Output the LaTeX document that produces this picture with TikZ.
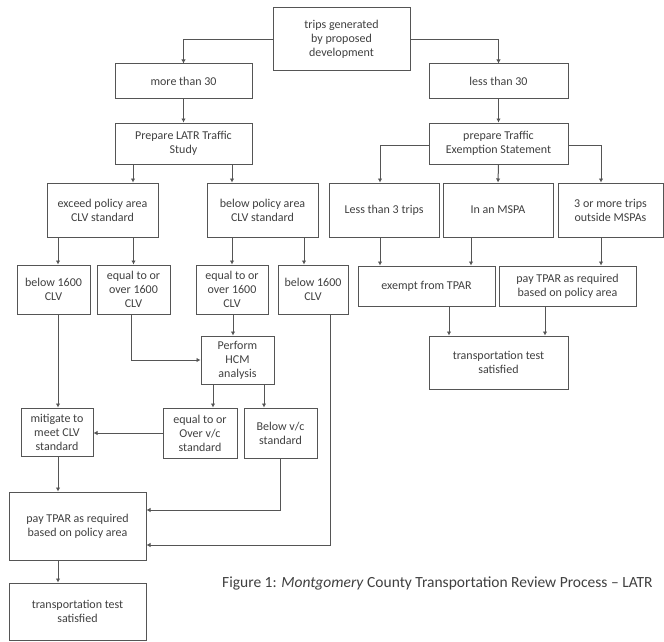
\documentclass[tikz,border=0pt]{standalone}
\usepackage{fontspec}
\setmainfont{Carlito}
\usetikzlibrary{arrows.meta}
\definecolor{linec}{HTML}{555555}
\definecolor{textc}{HTML}{404040}
\begin{document}
\begin{tikzpicture}[x=1pt,y=-1pt,
  box/.style={draw=linec,line width=1pt,inner sep=0pt,align=center,text=textc,
    font=\fontsize{12}{14}\selectfont},
  arr/.style={draw=linec,line width=1pt,-{Latex[length=4pt,width=4.5pt]}}]
\useasboundingbox[fill=white] (0,0) rectangle (664,642);
% helper x-columns
\coordinate (colA) at (58,0);
\coordinate (colB) at (380,0);
\coordinate (colC) at (471,0);
\coordinate (colD) at (601,0);
\coordinate (colE) at (449,0);
\coordinate (colF) at (545,0);
% nodes
\node[box,minimum width=137,minimum height=63] (top) at (341.5,39.5) {trips generated\\by proposed\\development};
\node[box,minimum width=137,minimum height=34] (more) at (183.5,81) {more than 30};
\node[box,minimum width=139,minimum height=34] (less) at (498.5,81) {less than 30};
\node[box,minimum width=137,minimum height=41] (latr) at (183.5,143.5) {Prepare LATR Traffic\\Study};
\node[box,minimum width=139,minimum height=41] (tes) at (498.5,143.5) {prepare Traffic\\Exemption Statement};
\node[box,minimum width=111,minimum height=54] (exceed) at (102.5,210) {exceed policy area\\CLV standard};
\node[box,minimum width=111,minimum height=54] (belowpol) at (262.5,210) {below policy area\\CLV standard};
\node[box,minimum width=110,minimum height=54] (less3) at (384,210) {Less than 3 trips};
\node[box,minimum width=110,minimum height=54] (mspa) at (498,210) {In an MSPA};
\node[box,minimum width=105,minimum height=54] (outside) at (610.5,210) {3 or more trips\\outside MSPAs};
\node[box,minimum width=73,minimum height=49] (bA) at (53.5,289.5) {below 1600\\CLV};
\node[box,minimum width=73,minimum height=49] (eA) at (133.5,289.5) {equal to or\\over 1600\\CLV};
\node[box,minimum width=72,minimum height=49] (eB) at (232,289.5) {equal to or\\over 1600\\CLV};
\node[box,minimum width=70,minimum height=49] (bB) at (313,289.5) {below 1600\\CLV};
\node[box,minimum width=137,minimum height=40] (exempt) at (426.5,286) {exempt from TPAR};
\node[box,minimum width=137,minimum height=40] (payr) at (567.5,286) {pay TPAR as required\\based on policy area};
\node[box,minimum width=73,minimum height=48] (hcm) at (237.5,360) {Perform\\HCM\\analysis};
\node[box,minimum width=139,minimum height=53] (testr) at (498.5,362.5) {transportation test\\satisfied};
\node[box,minimum width=72,minimum height=48] (mit) at (57,432) {mitigate to\\meet CLV\\standard};
\node[box,minimum width=74,minimum height=50] (eqvc) at (200,433) {equal to or\\Over v/c\\standard};
\node[box,minimum width=73,minimum height=50] (bvc) at (280.5,433) {Below v/c\\standard};
\node[box,minimum width=137,minimum height=68] (payl) at (77.5,526) {pay TPAR as required\\based on policy area};
\node[box,minimum width=137,minimum height=57] (testl) at (77.5,611.5) {transportation test\\satisfied};
\node[anchor=west,text=textc,inner sep=0pt,font=\fontsize{15.5}{18}\selectfont] (cap) at (222,583)
  {Figure 1: \textit{Montgomery} County Transportation Review Process -- LATR};
% connectors
\draw[arr] (top.west) -| (more.north);
\draw[arr] (top.east) -| (less.north);
\draw[arr] (more.south) -- (latr.north);
\draw[arr] (less.south) -- (tes.north);
\draw[arr] ([xshift=-50.5pt]latr.south) -- ([xshift=-50.5pt]latr.south |- exceed.north);
\draw[arr] ([xshift=48.5pt]latr.south) -- ([xshift=48.5pt]latr.south |- belowpol.north);
\draw[arr] ([yshift=-1.5pt]tes.west) -| (colB |- less3.north);
\draw[arr] (tes.south) -- (mspa.north);
\draw[arr] ([yshift=-1.5pt]tes.east) -| (colD |- outside.north);
\draw[arr] (exceed.south -| colA) -- (bA.north -| colA);
\draw[arr] (exceed.south -| eA.north) -- (eA.north);
\draw[arr] (belowpol.south -| eB.north) -- (eB.north);
\draw[arr] ([xshift=-9pt]bB.north |- belowpol.south) -- ([xshift=-9pt]bB.north);
\draw[arr] ([xshift=1pt]eB.south) -- ([xshift=1pt]eB.south |- hcm.north);
\draw[arr] ([xshift=-2.5pt]eA.south) |- (hcm.west);
\draw[arr] ([xshift=-24.5pt]hcm.south) -- ([xshift=-24.5pt]hcm.south |- eqvc.north);
\draw[arr] ([xshift=26.5pt]hcm.south) -- ([xshift=26.5pt]hcm.south |- bvc.north);
\draw[arr] (bA.south -| colA) -- (mit.north -| colA);
\draw[arr] (eqvc.west) -- (eqvc.west -| mit.east);
\draw[arr] (mit.south -| colA) -- (payl.north -| colA);
\draw[arr] (bvc.south) |- ([yshift=16pt]payl.east);
\draw[arr] ([xshift=17pt]bB.south) |- ([yshift=-19pt]payl.east);
\draw[arr] (payl.south -| colA) -- (testl.north -| colA);
\draw[arr] (less3.south -| colB) -- (exempt.north -| colB);
\draw[arr] (mspa.south -| colC) -- (exempt.north -| colC);
\draw[arr] (outside.south -| colD) -- (payr.north -| colD);
\draw[arr] (exempt.south -| colE) -- (testr.north -| colE);
\draw[arr] (payr.south -| colF) -- (testr.north -| colF);
\end{tikzpicture}
\end{document}
